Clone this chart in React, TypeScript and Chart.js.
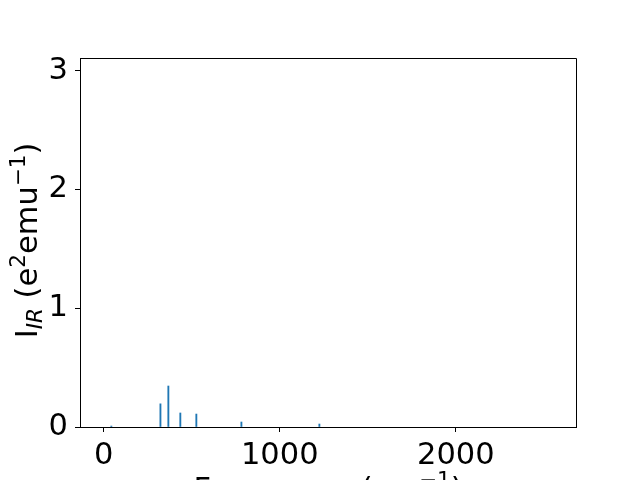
import React, { useEffect, useRef } from "react";
import { Chart, registerables } from "chart.js";

Chart.register(...registerables);

const frequencies = [43, 322, 367, 435, 526, 782, 1225];
const intensities = [0.008, 0.195, 0.345, 0.118, 0.109, 0.042, 0.025];
const xTicks = [0, 1000, 2000];
const yTicks = [0, 1, 2, 3];
const xRange = [-135, 2683];
const yRange = [0, 3.106];

const FONT = "'DejaVu Sans'";
const MAIN = 30.5;
const SMALL = 21.5;

type Part = { t: string; size: number; dy: number; italic?: boolean };

function drawParts(ctx: CanvasRenderingContext2D, parts: Part[], cx: number) {
  let total = 0;
  for (const p of parts) {
    ctx.font = `${p.italic ? "italic " : ""}${p.size}px ${FONT}`;
    total += ctx.measureText(p.t).width;
  }
  let x = cx - total / 2;
  for (const p of parts) {
    ctx.font = `${p.italic ? "italic " : ""}${p.size}px ${FONT}`;
    ctx.fillText(p.t, x, p.dy);
    x += ctx.measureText(p.t).width;
  }
}

const labelsPlugin = {
  id: "labelsPlugin",
  afterDraw(chart: any) {
    const ctx: CanvasRenderingContext2D = chart.ctx;
    const a = chart.chartArea;
    ctx.save();
    ctx.strokeStyle = "#000";
    ctx.lineWidth = 1;
    ctx.beginPath();
    ctx.moveTo(a.left, a.top + 0.5);
    ctx.lineTo(a.right + 0.5, a.top + 0.5);
    ctx.lineTo(a.right + 0.5, a.bottom);
    ctx.stroke();
    ctx.fillStyle = "#000";
    ctx.textBaseline = "alphabetic";
    ctx.textAlign = "left";
    // y label
    ctx.save();
    ctx.translate(37, (a.top + a.bottom) / 2 - 2);
    ctx.rotate(-Math.PI / 2);
    drawParts(
      ctx,
      [
        { t: "I", size: MAIN, dy: 0 },
        { t: "IR", size: SMALL, dy: 5, italic: true },
        { t: " (e", size: MAIN, dy: 0 },
        { t: "2", size: SMALL, dy: -12 },
        { t: "emu", size: MAIN, dy: 0 },
        { t: "\u22121", size: SMALL, dy: -12 },
        { t: ")", size: MAIN, dy: 0 },
      ],
      0
    );
    ctx.restore();
    // x label
    ctx.save();
    ctx.translate(0, 499);
    drawParts(
      ctx,
      [
        { t: "Frequency (cm", size: MAIN, dy: 0 },
        { t: "\u22121", size: SMALL, dy: -12 },
        { t: ")", size: MAIN, dy: 0 },
      ],
      (a.left + a.right) / 2
    );
    ctx.restore();
    ctx.restore();
  },
};

export default function App() {
  const ref = useRef<HTMLCanvasElement | null>(null);
  useEffect(() => {
    if (!ref.current) return;
    const chart = new Chart(ref.current, {
      type: "bar",
      data: {
        datasets: [
          {
            data: frequencies.map((f, i) => ({ x: f, y: intensities[i] })),
            backgroundColor: "#1f77b4",
            borderWidth: 0,
            barThickness: 1.2,
          } as any,
        ],
      },
      options: {
        animation: false,
        responsive: false,
        events: [],
        layout: { padding: { left: 0, top: 58, right: 64, bottom: 0 } },
        plugins: { legend: { display: false }, tooltip: { enabled: false } },
        scales: {
          x: {
            type: "linear",
            min: xRange[0],
            max: xRange[1],
            offset: false,
            afterBuildTicks: (s: any) => {
              s.ticks = xTicks.map((v) => ({ value: v }));
            },
            afterFit: (s: any) => {
              s.height = 53;
            },
            grid: {
              offset: false,
              drawOnChartArea: false,
              drawTicks: true,
              tickLength: 5,
              color: "#000",
            },
            border: { display: true, color: "#000", width: 1 },
            ticks: {
              color: "#000",
              padding: 6,
              maxRotation: 0,
              autoSkip: false,
              font: { family: "DejaVu Sans", size: MAIN },
              callback: (v: any) => String(v),
            },
          },
          y: {
            type: "linear",
            min: yRange[0],
            max: yRange[1],
            afterBuildTicks: (s: any) => {
              s.ticks = yTicks.map((v) => ({ value: v }));
            },
            afterFit: (s: any) => {
              s.width = 80;
            },
            grid: {
              drawOnChartArea: false,
              drawTicks: true,
              tickLength: 5,
              color: "#000",
            },
            border: { display: true, color: "#000", width: 1 },
            ticks: {
              color: "#000",
              padding: 7,
              autoSkip: false,
              font: { family: "DejaVu Sans", size: MAIN },
              callback: (v: any) => String(v),
            },
          },
        },
      },
      plugins: [labelsPlugin],
    });
    return () => chart.destroy();
  }, []);
  return (
    <div style={{ position: "fixed", left: 0, top: 0, width: 640, height: 480, background: "#fff" }}>
      <canvas ref={ref} width={640} height={480} style={{ display: "block" }} />
    </div>
  );
}
